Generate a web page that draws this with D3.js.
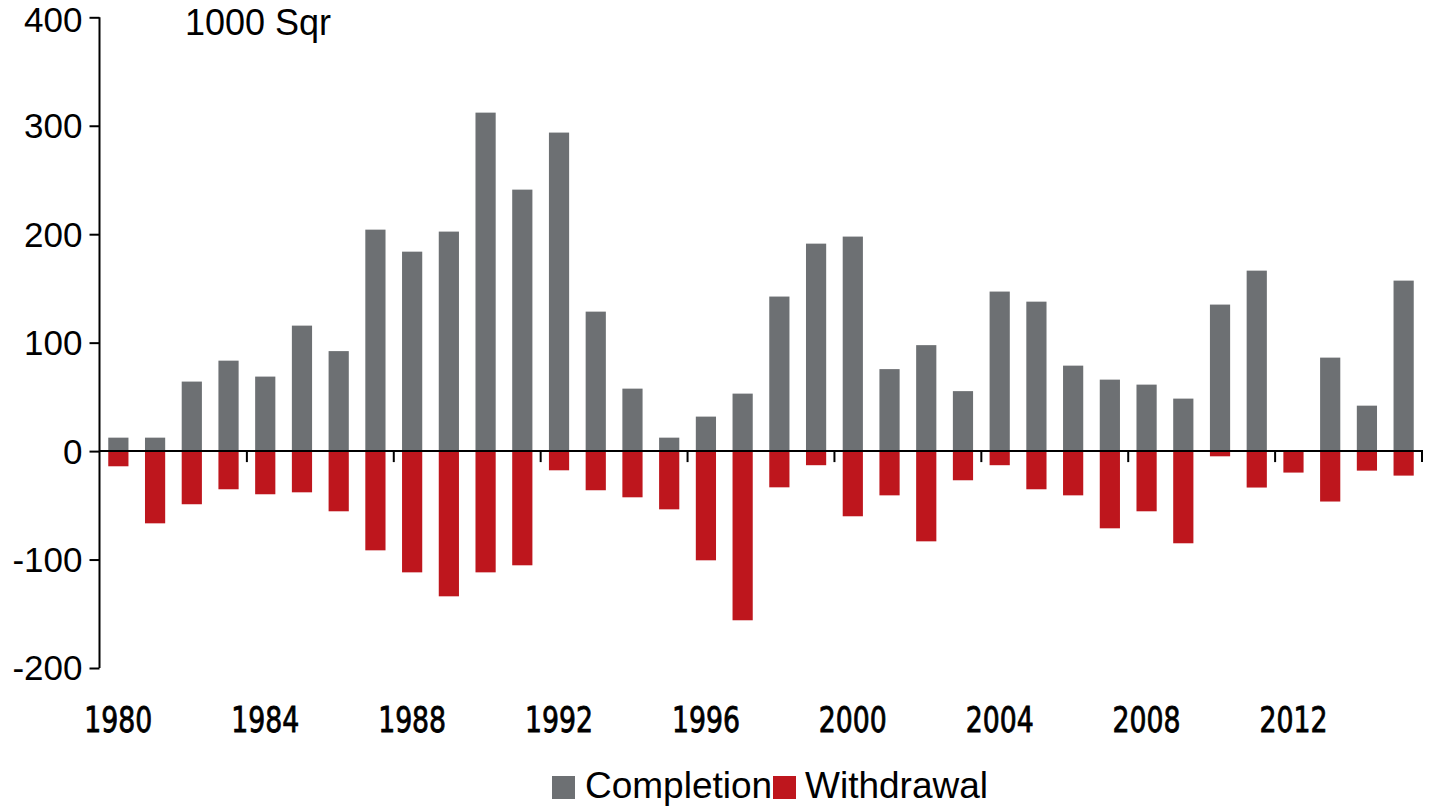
<!DOCTYPE html>
<html>
<head>
<meta charset="utf-8">
<script src="https://cdn.jsdelivr.net/npm/d3@7"></script>
<style>
  html, body { margin: 0; padding: 0; background: #ffffff; }
  svg { display: block; }
  text { font-family: "Liberation Sans", Arial, Helvetica, sans-serif; fill: #000; }
  .xlab { font-family: "Liberation Sans Narrow", "DejaVu Sans Condensed", sans-serif; }
</style>
</head>
<body>
<svg id="chart" width="1431" height="807"></svg>
<script>
// ---- Data ----
const years = d3.range(1980, 2016);
const completions = [12.4, 12.4, 64.1, 83.4, 68.7, 115.7, 92.2, 204.2, 183.9, 202.4, 312.1, 241.1,
  293.7, 128.6, 57.6, 12.4, 31.8, 53.0, 142.5, 191.3, 197.8, 75.6, 97.7, 55.3, 147.1,
  137.8, 78.8, 65.9, 61.3, 48.4, 135.1, 166.4, 0, 86.2, 41.9, 157.2];
const withdrawals = [-14.0, -66.6, -49.0, -35.2, -39.8, -38.0, -55.5, -91.5, -111.8, -133.9, -111.8, -105.3,
  -17.7, -36.1, -42.6, -53.7, -100.7, -156.0, -33.4, -13.0, -60.1, -40.8, -83.2, -26.9, -13.0,
  -35.2, -40.8, -71.2, -55.5, -85.0, -4.8, -33.6, -19.8, -46.5, -18.0, -22.6];
const yTicks = [-200, -100, 0, 100, 200, 300, 400];
const xLabelYears = [1980, 1984, 1988, 1992, 1996, 2000, 2004, 2008, 2012];
const xTickYears = [1984, 1988, 1992, 1996, 2000, 2004, 2008, 2012, 2016];
const unitLabel = "1000 Sqr";
const seriesNames = ["Completions", "Withdrawal"];
const colors = ["#6d7073", "#be161d"];

// ---- Scales ----
const svg = d3.select("#chart");
const axisX = 99.5;
const innerPad = 0.45;
const x = d3.scaleBand().domain(years).range([100, 1422])
  .paddingInner(innerPad).paddingOuter(innerPad / 2);
const y = d3.scaleLinear().domain([-200, 400]).range([668, 17.3]);
const gap = x.step() * innerPad / 2;
function boundary(yr) {
  if (yr <= years[years.length - 1]) return x(yr) - gap;
  return x(years[years.length - 1]) + x.bandwidth() + gap;
}

// ---- Bars ----
svg.append("g").selectAll("rect").data(years).join("rect")
  .attr("x", d => x(d))
  .attr("width", x.bandwidth())
  .attr("y", (d, i) => y(Math.max(0, completions[i])))
  .attr("height", (d, i) => Math.abs(y(completions[i]) - y(0)))
  .attr("fill", colors[0]);

svg.append("g").selectAll("rect").data(years).join("rect")
  .attr("x", d => x(d))
  .attr("width", x.bandwidth())
  .attr("y", y(0))
  .attr("height", (d, i) => Math.abs(y(withdrawals[i]) - y(0)))
  .attr("fill", colors[1]);

// ---- Y axis ----
const yAxis = d3.axisLeft(y).tickValues(yTicks).tickSize(10).tickPadding(7).tickFormat(d => String(d));
const gy = svg.append("g").attr("transform", `translate(${axisX},0)`).call(yAxis);
gy.select(".domain").attr("stroke", "#000").attr("stroke-width", 2).attr("d", `M0,${y(400)}V${y(-200)}`);
gy.selectAll(".tick line").attr("stroke", "#000").attr("stroke-width", 2);
gy.selectAll(".tick text")
  .style("font-family", '"Liberation Sans", Arial, sans-serif')
  .style("font-size", "35px").attr("fill", "#000")
  .attr("dy", d => d === 400 ? "0.4em" : "0.34em");

// ---- Zero line with ticks ----
const zero = y(0);
svg.append("line")
  .attr("x1", axisX).attr("x2", boundary(2016) + 1)
  .attr("y1", zero).attr("y2", zero)
  .attr("stroke", "#000").attr("stroke-width", 2);
svg.append("g").selectAll("line").data(xTickYears).join("line")
  .attr("x1", d => boundary(d)).attr("x2", d => boundary(d))
  .attr("y1", zero).attr("y2", zero + 11)
  .attr("stroke", "#000").attr("stroke-width", 2);

// ---- X labels ----
svg.append("g").selectAll("text").data(xLabelYears).join("text")
  .attr("class", "xlab")
  .attr("x", d => x(d) + x.bandwidth() / 2)
  .attr("y", 732)
  .attr("text-anchor", "middle")
  .attr("textLength", 68)
  .attr("lengthAdjust", "spacingAndGlyphs")
  .style("font-size", "35px")
  .style("stroke", "#000")
  .style("stroke-width", "0.8px")
  .text(d => d);

// ---- Unit label ----
svg.append("text").attr("x", 185).attr("y", 35)
  .style("font-size", "36px").text(unitLabel);

// ---- Legend ----
const lg = svg.append("g");
lg.append("rect").attr("x", 552).attr("y", 776).attr("width", 23).attr("height", 23).attr("fill", colors[0]);
lg.append("text").attr("x", 585).attr("y", 798).style("font-size", "37px").text(seriesNames[0]);
lg.append("rect").attr("x", 773).attr("y", 776).attr("width", 23).attr("height", 23).attr("fill", colors[1]);
lg.append("text").attr("x", 805).attr("y", 798).style("font-size", "37px").text(seriesNames[1]);
</script>
</body>
</html>
